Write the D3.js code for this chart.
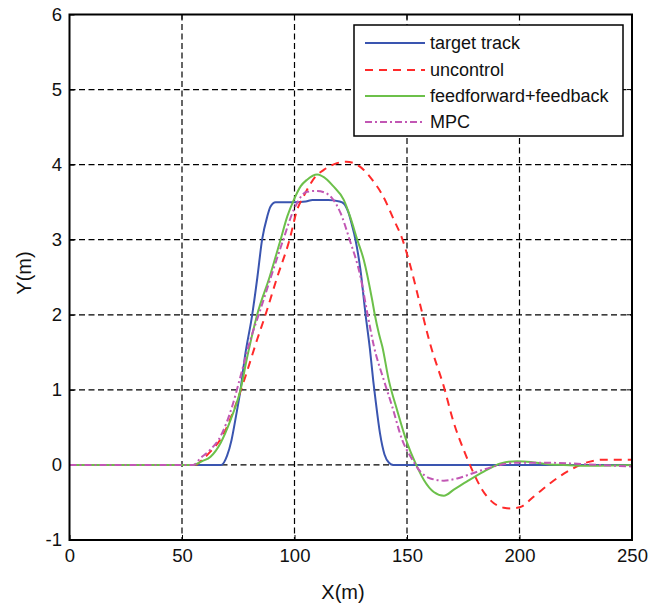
<!DOCTYPE html>
<html><head><meta charset="utf-8">
<script src="https://cdn.jsdelivr.net/npm/d3@7"></script>
<style>body{margin:0;background:#fff;} svg{display:block;font-family:"Liberation Sans",Arial,sans-serif;}</style>
</head><body>
<svg id="c" width="651" height="603"></svg>
<script>
const xTicks = [0,50,100,150,200,250];
const yTicks = [-1,0,1,2,3,4,5,6];
const seriesNames = ["target track","uncontrol","feedforward+feedback","MPC"];

const targetX = [0,67.5,70,72,74,76,78,81.2,83.5,85.6,87.9,89.3,91.6,100,105,108,115,120,122,124,125.5,127.1,129.3,131.6,133.5,135,136,138,140,142,144,250];
const targetY = [0,0,0.12,0.33,0.65,1.0,1.45,2.0,2.5,3.0,3.31,3.44,3.5,3.5,3.51,3.53,3.53,3.51,3.48,3.36,3.2,3.0,2.6,2.0,1.55,1.12,0.87,0.42,0.14,0.03,0,0];

const uncX = [0,56,59,62.7,67.9,73,78.2,83.4,87.1,92.3,97.8,101.2,104.1,109.3,113,118,123,130.8,134.5,139,144.1,147.9,151.6,155.3,160.4,166.4,170.8,175.2,179,183.4,188.6,193,196,200.4,206.4,213.8,221.2,228.6,237.5,250];
const uncY = [0,0,0.07,0.18,0.38,0.73,1.18,1.67,2.0,2.5,3.0,3.4,3.58,3.84,3.93,4.01,4.04,3.93,3.8,3.6,3.27,3.01,2.64,2.2,1.6,1.04,0.56,0.2,-0.07,-0.33,-0.51,-0.57,-0.58,-0.56,-0.42,-0.24,-0.09,0.02,0.07,0.07];

const ffX = [0,55,59,62.7,67.1,71.6,76,79,83.4,89,93.8,96.8,99.7,102.7,105.6,110,114.5,117,121.9,124.8,127.8,130.8,134.5,135.7,137.5,139,141.9,145.6,150.1,153.8,157.5,161.9,166.4,170.8,176.7,184.1,191.6,199,205,212.3,219.7,228.6,250];
const ffY = [0,0,0.05,0.11,0.29,0.6,1.0,1.44,2.0,2.51,3.0,3.31,3.53,3.71,3.8,3.87,3.8,3.72,3.53,3.3,3.01,2.73,2.2,2.0,1.75,1.58,1.13,0.73,0.29,0.02,-0.2,-0.36,-0.41,-0.33,-0.22,-0.09,0.02,0.05,0.04,0.01,0,-0.01,0];

const mpcX = [0,55,58.2,62.5,67.1,72.3,76,80.4,84.1,89.5,95,99.7,105.6,110,114,116.5,120.4,124.5,129.3,132.5,135.3,139.7,143.4,147.9,151.6,156,160.4,166.4,172.3,181.2,190.1,199,210.8,222.7,234.5,250];
const mpcY = [0,0,0.09,0.2,0.38,0.78,1.18,1.67,2.0,2.5,3.0,3.4,3.64,3.65,3.62,3.56,3.36,3.0,2.51,2.0,1.58,1.13,0.78,0.33,0.11,-0.09,-0.18,-0.21,-0.18,-0.09,-0.01,0.03,0.03,0.02,0,-0.02];

const colors = ["#3a55b0","#ff2a2a","#6cc04a","#c257b4"];
const dashes = [null,"8,6",null,"7,3,2,3"];

const L=69.5,R=632,T=14.5,B=540;
const svg = d3.select("#c");
const x = d3.scaleLinear().domain([0,250]).range([L,R]);
const y = d3.scaleLinear().domain([-1,6]).range([B,T]);
const FONT = "'Liberation Sans',Arial,sans-serif";

// grid
const g = svg.append("g");
g.selectAll(".gx").data(xTicks.slice(1,-1)).enter().append("line")
 .attr("x1",d=>x(d)).attr("x2",d=>x(d)).attr("y1",T).attr("y2",B)
 .attr("stroke","#000").attr("stroke-width",1.2).attr("stroke-dasharray","6,3.5");
g.selectAll(".gy").data(yTicks.slice(1,-1)).enter().append("line")
 .attr("y1",d=>y(d)).attr("y2",d=>y(d)).attr("x1",L).attr("x2",R)
 .attr("stroke","#000").attr("stroke-width",1.2).attr("stroke-dasharray","6,3.5");

// axes
const fmt = d => String(d);
const xAxis = d3.axisBottom(x).tickValues(xTicks).tickSize(-5).tickPadding(9).tickFormat(fmt);
const yAxis = d3.axisLeft(y).tickValues(yTicks).tickSize(-5).tickPadding(7.5).tickFormat(fmt);
const gx = svg.append("g").attr("transform",`translate(0,${B})`).call(xAxis);
const gy = svg.append("g").attr("transform",`translate(${L},0)`).call(yAxis);
[gx,gy].forEach(a=>{
  a.select(".domain").remove();
  a.selectAll("line").attr("stroke","#000").attr("stroke-width",1);
  a.selectAll("text").attr("font-size",18.5).attr("fill","#111").attr("font-family",FONT);
});
// top/right ticks
svg.append("g").selectAll("line").data(xTicks).enter().append("line")
 .attr("x1",d=>x(d)).attr("x2",d=>x(d)).attr("y1",T).attr("y2",T+5).attr("stroke","#000");
svg.append("g").selectAll("line").data(yTicks).enter().append("line")
 .attr("y1",d=>y(d)).attr("y2",d=>y(d)).attr("x1",R).attr("x2",R-5).attr("stroke","#000");

// lines
const data = [[targetX,targetY],[uncX,uncY],[ffX,ffY],[mpcX,mpcY]];
const line = d3.line().x(d=>x(d[0])).y(d=>y(d[1])).curve(d3.curveMonotoneX);
svg.append("clipPath").attr("id","clp").append("rect").attr("x",L).attr("y",T).attr("width",R-L).attr("height",B-T);
[0,1,2,3].forEach(i=>{
  const pts = data[i][0].map((v,k)=>[v,data[i][1][k]]);
  svg.append("path").datum(pts).attr("d",line).attr("fill","none")
   .attr("stroke",colors[i]).attr("stroke-width",2)
   .attr("stroke-dasharray",dashes[i]).attr("clip-path","url(#clp)")
   .attr("stroke-linejoin","round");
});

// frame
svg.append("rect").attr("x",L).attr("y",T).attr("width",R-L).attr("height",B-T)
 .attr("fill","none").attr("stroke","#000").attr("stroke-width",2);

// legend
const lg = svg.append("g");
lg.append("rect").attr("x",354).attr("y",25).attr("width",269).attr("height",111)
 .attr("fill","#fff").attr("stroke","#000").attr("stroke-width",1.5);
const rowsY=[43,70,96,122];
seriesNames.forEach((n,i)=>{
  lg.append("line").attr("x1",365).attr("x2",425).attr("y1",rowsY[i]).attr("y2",rowsY[i])
   .attr("stroke",colors[i]).attr("stroke-width",2).attr("stroke-dasharray",dashes[i]);
  lg.append("text").attr("x",430).attr("y",rowsY[i]).attr("dy","0.35em")
   .attr("font-size",18).attr("fill","#111").text(n);
});

// axis labels
svg.append("text").attr("x",343).attr("y",599).attr("text-anchor","middle")
 .attr("font-size",20).attr("fill","#111").text("X(m)");
svg.append("text").attr("transform",`translate(31,273) rotate(-90)`).attr("text-anchor","middle")
 .attr("font-size",20).attr("fill","#111").text("Y(m)");
</script>
</body></html>
